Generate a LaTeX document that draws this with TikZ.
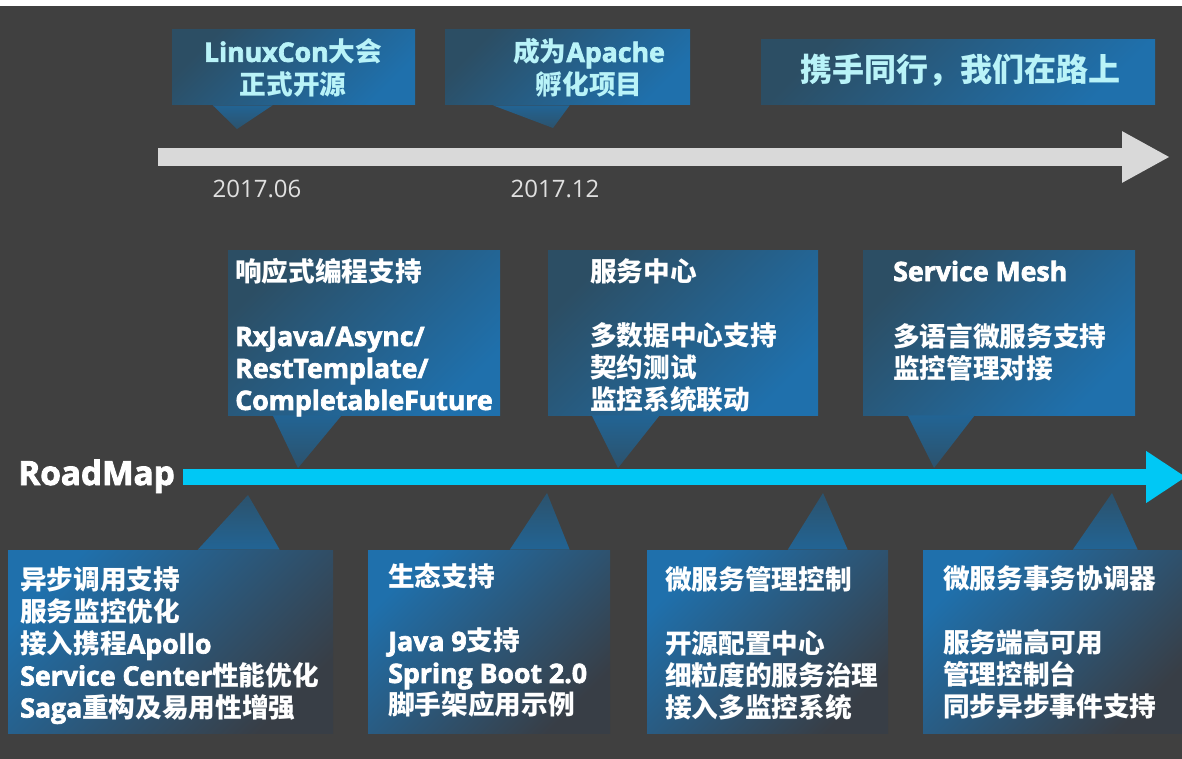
\documentclass[tikz,border=0pt]{standalone}
\usepackage{fontspec}
\setmainfont{Noto Sans CJK SC}
\newfontfamily\lat{Open Sans}[FakeBold=2.6]
\newfontfamily\datefont{Open Sans}
\usetikzlibrary{arrows.meta,calc}
\definecolor{bgdark}{RGB}{64,64,64}
\definecolor{roadcyan}{RGB}{0,200,245}
\definecolor{railgray}{RGB}{217,217,217}
\definecolor{boxblue}{RGB}{31,112,172}
\definecolor{boxdark}{RGB}{44,78,100}
\definecolor{boxfade}{RGB}{56,62,70}
\definecolor{tailblue}{RGB}{34,100,148}
\definecolor{taildark}{RGB}{44,82,108}
\definecolor{titlecyan}{RGB}{185,243,248}

\begin{document}
\begin{tikzpicture}[x=0.75pt,y=-0.75pt]
\tikzstyle{upbox}=[inner sep=0,top color=boxdark,bottom color=boxblue,shading angle=45]
\tikzstyle{lowbox}=[inner sep=0,top color=boxblue,bottom color=boxfade,shading angle=45]
\tikzstyle{taildown}=[top color=tailblue,bottom color=taildark]
\tikzstyle{tailup}=[top color=taildark,bottom color=tailblue]
\tikzstyle{rail}=[draw=railgray,line width=13.5pt,-{Triangle[length=36pt,width=36pt]}]
\tikzstyle{road}=[draw=roadcyan,line width=12pt,-{Triangle[length=30pt,width=37pt]}]
\tikzstyle{toptxt}=[inner sep=0,align=center,text=titlecyan,font=\fontsize{20}{24.5}\selectfont\bfseries]
\tikzstyle{bodytxt}=[inner sep=0,anchor=north west,align=left,text=white,font=\fontsize{20}{24}\selectfont\bfseries]
\tikzstyle{datetxt}=[inner sep=0,anchor=base,text=white!88!black,font=\datefont\fontsize{18}{22}\selectfont]
\useasboundingbox (0,0) rectangle (1182,759);
\fill[white] (0,0) rectangle (1182,759);
\fill[bgdark] (0,6) rectangle (1182,759);
% milestones
\node[upbox,minimum width=182.25pt,minimum height=56.25pt] (t1) at (293.5,67.5) {};
\node[upbox,minimum width=183.75pt,minimum height=56.25pt] (t2) at (567.5,67.5) {};
\node[upbox,minimum width=295.5pt,minimum height=48.75pt] (t3) at (958,72.5) {};
\coordinate (p1) at (237,129); \coordinate (p2) at (553,128);
\shade[taildown] ($(t1.south west)+(41,0)$) -- ($(t1.south west)+(101,0)$) -- (p1) -- cycle;
\shade[taildown] ($(t2.south west)+(48,0)$) -- ($(t2.south west)+(125,0)$) -- (p2) -- cycle;
\coordinate (g0) at (158,157); \coordinate (g1) at (1170,157);
\draw[rail] (g0) -- (g1);
\node[toptxt] (t1txt) at (293,68) {{\lat LinuxCon}大会\\正式开源};
\node[toptxt] (t2txt) at (589,68) {成为{\lat Apache}\\孵化项目};
\node[toptxt,font=\fontsize{24}{28}\selectfont\bfseries] (t3txt) at (960,70) {携手同行，我们在路上};
\node[datetxt] (d1) at (257,198) {2017.06};
\node[datetxt] (d2) at (555,198) {2017.12};
% roadmap above
\node[upbox,minimum width=204pt,minimum height=123pt] (ma) at (364,333) {};
\node[upbox,minimum width=202.5pt,minimum height=123pt] (mb) at (683,333) {};
\node[upbox,minimum width=204pt,minimum height=123pt] (mc) at (999,333) {};
\coordinate (pa) at (298,468); \coordinate (pb) at (618,468); \coordinate (pc) at (934,468);
\shade[taildown] ($(ma.south west)+(45,0)$) -- ($(ma.south west)+(114,0)$) -- (pa) -- cycle;
\shade[taildown] ($(mb.south west)+(44,0)$) -- ($(mb.south west)+(112,0)$) -- (pb) -- cycle;
\shade[taildown] ($(mc.south west)+(45,0)$) -- ($(mc.south west)+(112,0)$) -- (pc) -- cycle;
% roadmap below
\node[lowbox,minimum width=243.75pt,minimum height=137.25pt] (bd) at (170.5,641.5) {};
\node[lowbox,minimum width=181.5pt,minimum height=137.25pt] (be) at (489,641.5) {};
\node[lowbox,minimum width=180.75pt,minimum height=137.25pt] (bf) at (767.5,641.5) {};
\node[lowbox,minimum width=194.25pt,minimum height=137.25pt] (bg) at (1052.5,641.5) {};
\coordinate (pd) at (248,495); \coordinate (pe) at (547,493);
\coordinate (pf) at (823,493); \coordinate (pg) at (1112,493);
\shade[tailup] ($(bd.north west)+(190,0)$) -- ($(bd.north west)+(272,0)$) -- (pd) -- cycle;
\shade[tailup] ($(be.north west)+(142,0)$) -- ($(be.north west)+(202,0)$) -- (pe) -- cycle;
\shade[tailup] ($(bf.north west)+(141,0)$) -- ($(bf.north west)+(201,0)$) -- (pf) -- cycle;
\shade[tailup] ($(bg.north west)+(150,0)$) -- ($(bg.north west)+(215,0)$) -- (pg) -- cycle;
\coordinate (r0) at (183,477); \coordinate (r1) at (1186,477);
\draw[road] (r0) -- (r1);
\node[inner sep=0,anchor=base west,text=white,font=\lat\fontsize{25}{30}\selectfont\bfseries] (rm) at (18,485) {RoadMap};
% texts
\node[bodytxt] (matxt) at (235,258.5) {响应式编程支持\\[24pt]{\lat RxJava/Async/}\\{\lat RestTemplate/}\\{\lat CompletableFuture}};
\node[bodytxt] (mbtxt) at (590,258.5) {服务中心\\[24pt]多数据中心支持\\契约测试\\监控系统联动};
\node[bodytxt] (mctxt) at (893,260.5) {{\lat Service Mesh}\\[25pt]多语言微服务支持\\监控管理对接};
\node[bodytxt] (bdtxt) at (20,566.5) {异步调用支持\\服务监控优化\\接入携程{\lat Apollo}\\{\lat Service Center}性能优化\\{\lat Saga}重构及易用性增强};
\node[bodytxt] (betxt) at (388,563.5) {生态支持\\[24pt]{\lat Java 9}支持\\{\lat Spring Boot 2.0}\\脚手架应用示例};
\node[bodytxt] (bftxt) at (665,566.5) {微服务管理控制\\[24pt]开源配置中心\\细粒度的服务治理\\接入多监控系统};
\node[bodytxt] (bgtxt) at (943,565.5) {微服务事务协调器\\[24pt]服务端高可用\\管理控制台\\同步异步事件支持};
\end{tikzpicture}
\end{document}
